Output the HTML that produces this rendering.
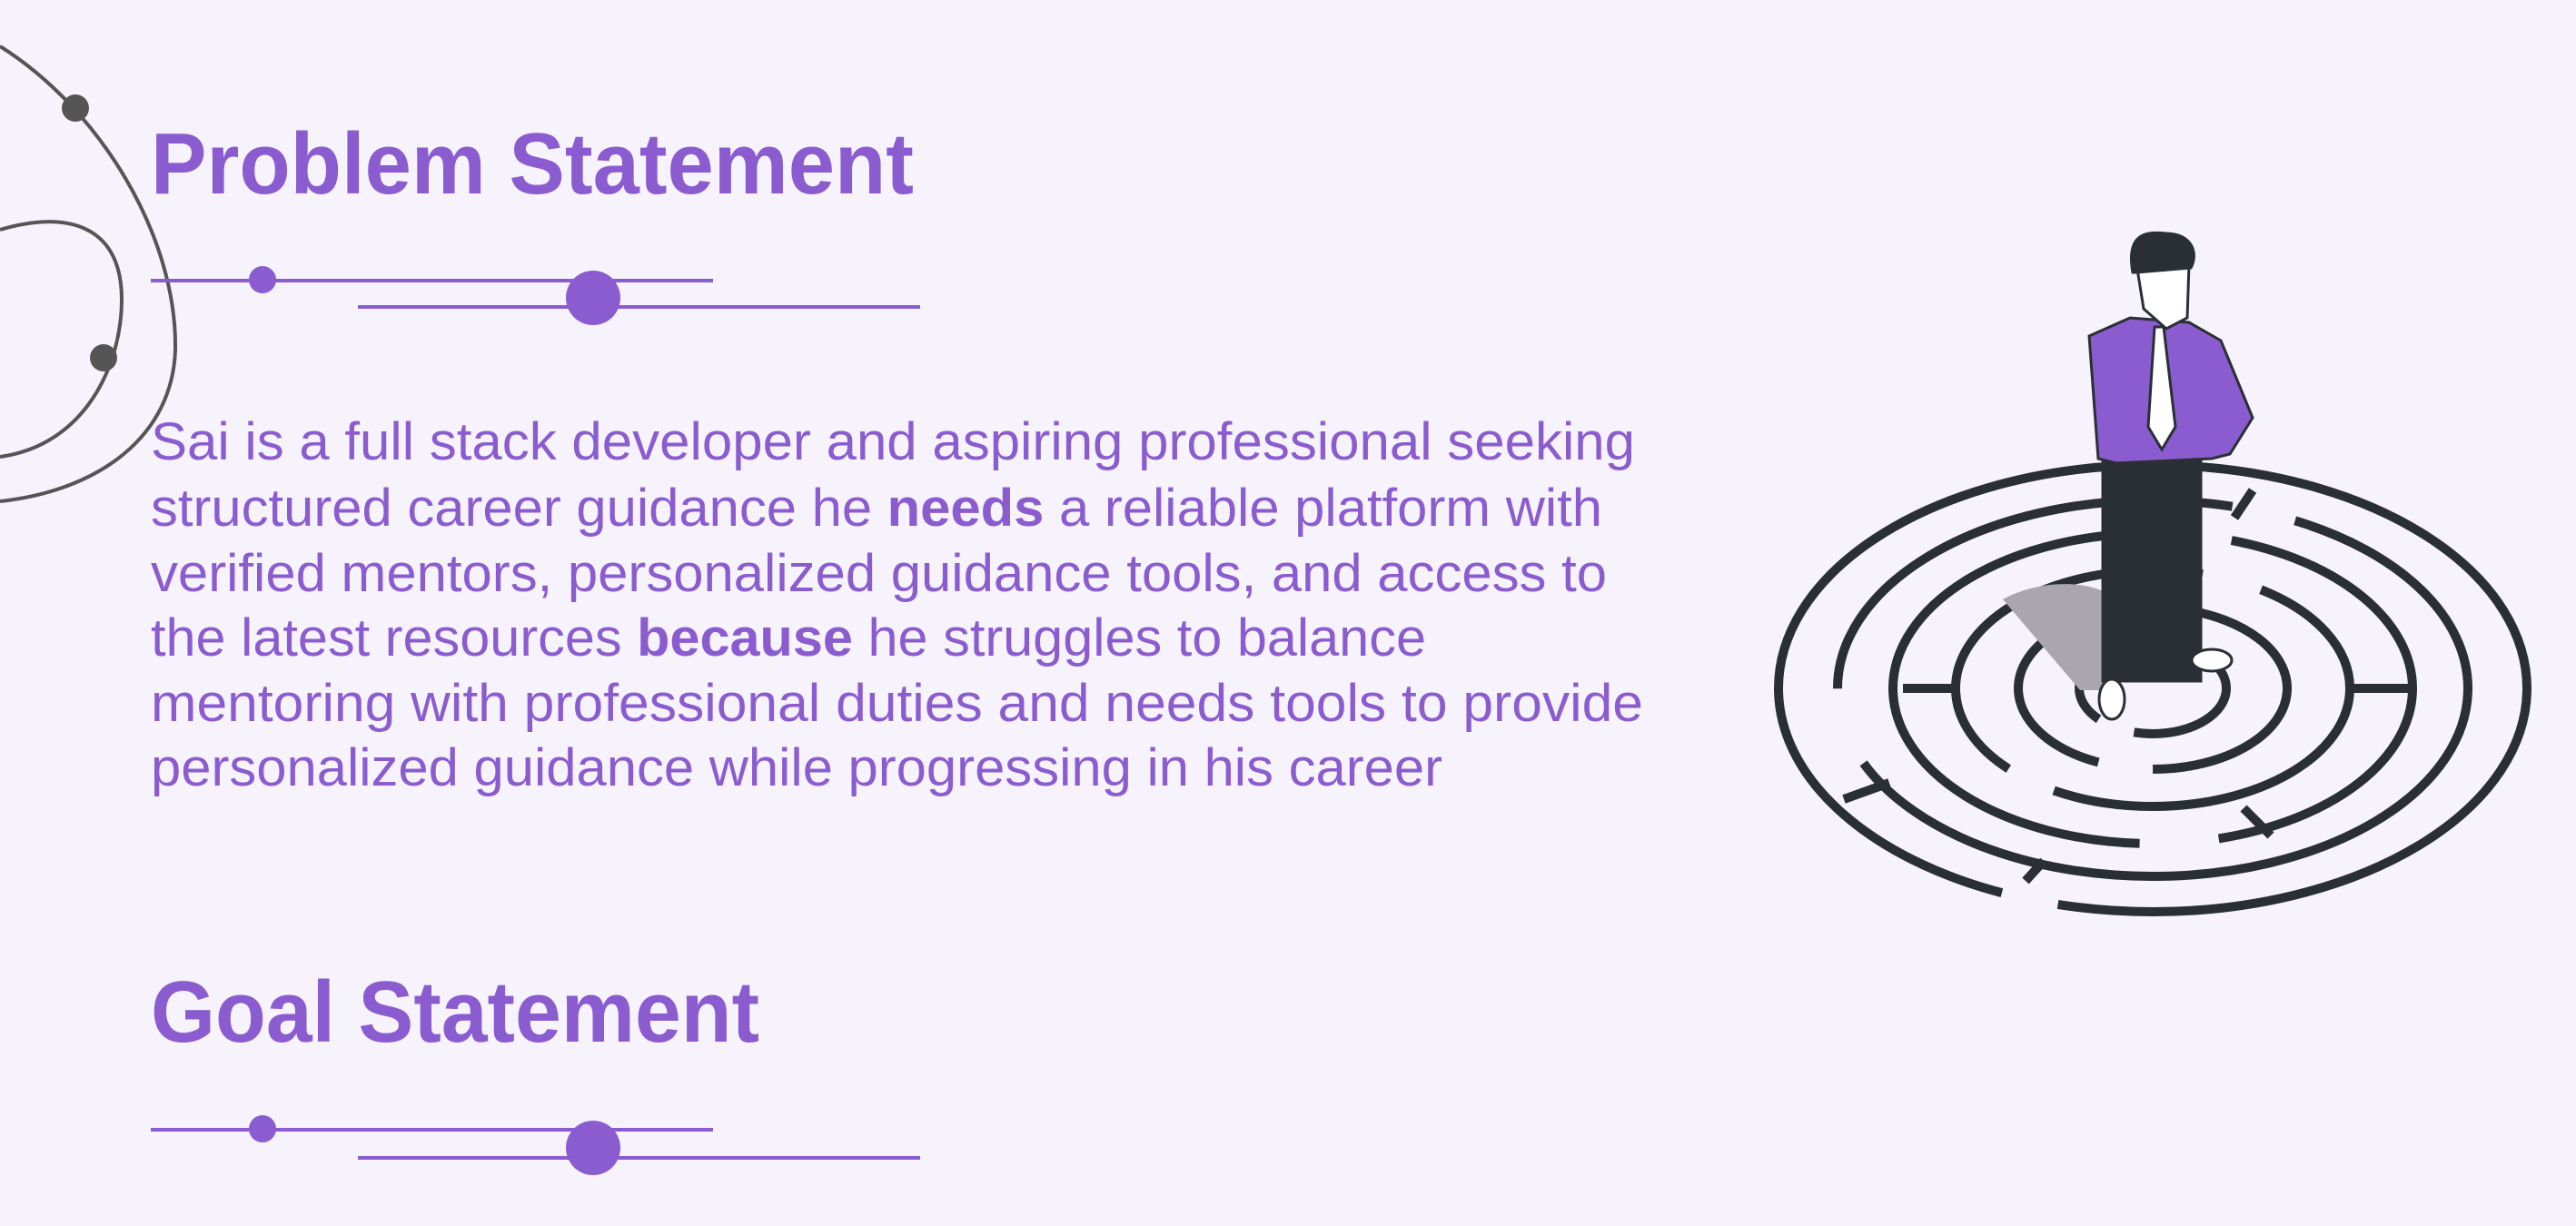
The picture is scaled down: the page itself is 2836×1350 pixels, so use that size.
<!DOCTYPE html>
<html><head><meta charset="utf-8"><style>
html,body{margin:0;padding:0;background:#f6f3fd;}
svg{display:block;}
.t{font-family:"Liberation Sans",sans-serif;fill:#8b5ccf;}
</style></head><body>
<svg width="2836" height="1350" viewBox="0 0 2836 1350">
<rect width="2836" height="1350" fill="#f6f3fd"/>
<g fill="none" stroke="#555" stroke-width="4">
<path d="M0,51 C110,120 195,260 193,385 C190,480 110,540 0,552"/>
<path d="M0,253 C70,232 134,245 134,330 C134,400 95,490 0,503"/>
<circle cx="83" cy="119" r="15" fill="#555" stroke="none"/>
<circle cx="114" cy="394" r="15" fill="#555" stroke="none"/>
</g>
<text class="t" x="166" y="213" font-size="96" font-weight="bold" textLength="840" lengthAdjust="spacingAndGlyphs">Problem Statement</text>
<g stroke="#8b5ccf" stroke-width="4" fill="#8b5ccf">
<line x1="166" y1="309" x2="785" y2="309"/><line x1="394" y1="338" x2="1013" y2="338"/>
<circle cx="289" cy="308" r="15" stroke="none"/><circle cx="653" cy="328" r="30" stroke="none"/>
</g>
<g class="t" font-size="58">
<text x="166" y="506" textLength="1634" lengthAdjust="spacingAndGlyphs">Sai is a full stack developer and aspiring professional seeking</text>
<text x="166" y="579" textLength="1598" lengthAdjust="spacingAndGlyphs">structured career guidance he <tspan font-weight="bold">needs</tspan> a reliable platform with</text>
<text x="166" y="651" textLength="1603" lengthAdjust="spacingAndGlyphs">verified mentors, personalized guidance tools, and access to</text>
<text x="166" y="722" textLength="1404" lengthAdjust="spacingAndGlyphs">the latest resources <tspan font-weight="bold">because</tspan> he struggles to balance</text>
<text x="166" y="794" textLength="1643" lengthAdjust="spacingAndGlyphs">mentoring with professional duties and needs tools to provide</text>
<text x="166" y="865" textLength="1422" lengthAdjust="spacingAndGlyphs">personalized guidance while progressing in his career</text>
</g>
<text class="t" x="166" y="1147" font-size="96" font-weight="bold" textLength="670" lengthAdjust="spacingAndGlyphs">Goal Statement</text>
<g stroke="#8b5ccf" stroke-width="4" fill="#8b5ccf">
<line x1="166" y1="1244" x2="785" y2="1244"/><line x1="394" y1="1275" x2="1013" y2="1275"/>
<circle cx="289" cy="1243" r="15" stroke="none"/><circle cx="653" cy="1264" r="30" stroke="none"/>
</g>
<g fill="none" stroke="#2a2f36" stroke-width="10">
<ellipse cx="2370" cy="758" rx="412" ry="246" pathLength="100" stroke-dasharray="30 3 40 4 23 0"/>
<ellipse cx="2370" cy="758" rx="347" ry="207" pathLength="100" stroke-dasharray="45 5 30 4 16 0"/>
<ellipse cx="2370" cy="758" rx="286" ry="171" pathLength="100" stroke-dasharray="20 6 50 5 19 0"/>
<ellipse cx="2370" cy="758" rx="217" ry="130" pathLength="100" stroke-dasharray="35 5 40 6 14 0"/>
<ellipse cx="2370" cy="758" rx="148" ry="89" pathLength="100" stroke-dasharray="25 8 40 7 20 0"/>
<ellipse cx="2370" cy="758" rx="81" ry="50" pathLength="100" stroke-dasharray="30 10 35 10 15 0"/>
<line x1="2095" y1="758" x2="2155" y2="758"/><line x1="2590" y1="758" x2="2655" y2="758"/>
<line x1="2030" y1="880" x2="2080" y2="862"/><line x1="2470" y1="890" x2="2500" y2="920"/>
<line x1="2230" y1="970" x2="2250" y2="948"/><line x1="2460" y1="570" x2="2480" y2="540"/>
</g>
<g stroke="#2a2f36" stroke-width="3">
<path d="M2205,660 C2240,640 2300,635 2330,660 L2320,760 L2290,760 Z" fill="#a9a6af" stroke="none"/>
<rect x="2315" y="500" width="108" height="250" fill="#2a2f36"/>
<ellipse cx="2325" cy="770" rx="14" ry="22" fill="#fff"/>
<ellipse cx="2435" cy="727" rx="22" ry="12" fill="#fff"/>
<path d="M2300,370 L2345,350 L2410,355 L2445,375 L2480,460 L2455,500 L2435,505 L2330,510 L2310,505 Z" fill="#8b5ccf"/>
<path d="M2372,360 L2382,360 L2395,470 L2380,495 L2365,470 Z" fill="#fff"/>
<path d="M2352,290 L2410,290 L2408,350 L2385,362 L2360,340 Z" fill="#fff"/>
<path d="M2348,300 C2340,255 2365,255 2385,257 C2415,258 2420,280 2412,295 L2352,300 Z" fill="#2a2f36"/>
</g>
</svg>
</body></html>
